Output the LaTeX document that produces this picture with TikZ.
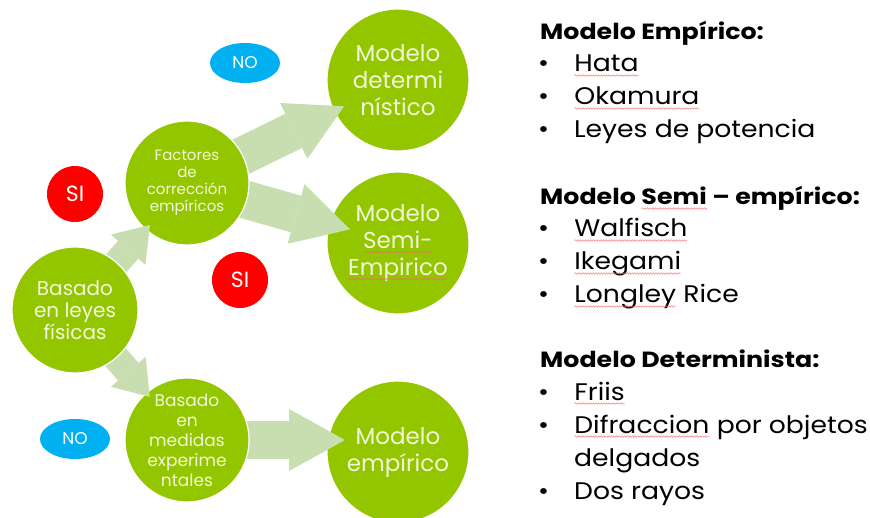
\documentclass[tikz,border=0pt]{standalone}
\usepackage{fontspec}
\setmainfont{Poppins}
\newfontfamily\itemFont[FakeStretch=1.11]{Poppins}
\newfontfamily\headFont[FakeStretch=1.15]{Poppins}
\usetikzlibrary{arrows.meta, shapes.geometric, decorations.pathmorphing}
\definecolor{nodeGreen}{HTML}{94C600}
\definecolor{arrowGreen}{HTML}{C8DEB0}
\definecolor{noBlue}{HTML}{00B0F0}
\definecolor{siRed}{HTML}{FF0000}
\definecolor{nodeText}{HTML}{F2F7DA}
\definecolor{waveRed}{HTML}{F26B6B}
\pgfdeclarelayer{bigLayer}
\pgfdeclarelayer{arrowLayerA}
\pgfdeclarelayer{midLayer}
\pgfdeclarelayer{arrowLayerB}
\pgfsetlayers{bigLayer,arrowLayerA,midLayer,arrowLayerB,main}
\tikzstyle{diagram} = [x = 1pt, y = -1pt]
\tikzstyle{circleStyle} = [circle, fill=nodeGreen, draw=white, line width=1.2pt, inner sep=0pt, align=center, text=nodeText]
\tikzstyle{bigCircle} = [circleStyle, minimum size=142pt, font=\fontsize{23}{27}\selectfont]
\tikzstyle{midCircle} = [circleStyle, minimum size=124pt]
\tikzstyle{bigArrow} = [draw=arrowGreen, line width=38pt, -{Triangle[length=56pt, width=62pt, line width=0pt]}]
\tikzstyle{smallArrow} = [draw=arrowGreen, line width=27pt, -{Triangle[length=33pt, width=46pt, line width=0pt]}]
\tikzstyle{noBadge} = [ellipse, fill=noBlue, minimum width=70pt, minimum height=40pt, inner sep=0pt, text=white, font=\fontsize{17}{17}\selectfont]
\tikzstyle{siBadge} = [circle, fill=siRed, minimum size=56pt, inner sep=0pt, text=white, font=\fontsize{22}{22}\selectfont]
\tikzstyle{headingText} = [anchor=base west, inner sep=0pt, font=\headFont\fontsize{22}{22}\selectfont\bfseries]
\tikzstyle{itemText} = [anchor=base west, inner sep=0pt, font=\itemFont\fontsize{24}{24}\selectfont]
\tikzstyle{waveWord} = [rectangle, draw=none, fill=none, minimum size=0pt, inner sep=0pt, outer sep=0pt, anchor=base]
\tikzstyle{waveLine} = [draw=waveRed, fill=none, line width=0.4pt, decorate, decoration={snake, amplitude=0.8pt, segment length=2.6pt}]
\newcommand{\spellWave}[1]{\tikz[baseline=(w.base), x=1pt, y=1pt]{\node [waveWord] (w) {#1}; \path [waveLine] ([yshift=-3.5pt]w.base west) -- ([yshift=-3.5pt]w.base east);}}
\newcommand{\listHeading}[3]{\node [headingText] (#1) at (540,#2) {#3};}
\newcommand{\listItem}[3]{
  \node [itemText] (#1-dot) at (538,#2) {•};
  \node [itemText] (#1) at (574,#2) {#3};
}

\begin{document}
\begin{tikzpicture}[diagram]
    \useasboundingbox (0,0) rectangle (870,518);
    \begin{pgfonlayer}{bigLayer}
      \node [bigCircle] (determ) at (398,80) {Modelo\\determi\\nístico};
      \node [bigCircle] (semi) at (398,243) {Modelo\\\spellWave{Semi-}\\\spellWave{Empirico}};
      \node [bigCircle] (empirico) at (398,452) {Modelo\\empírico};
    \end{pgfonlayer}
    \begin{pgfonlayer}{midLayer}
      \node [midCircle, font=\fontsize{15}{17}\selectfont] (factores) at (187,183) {Factores\\de\\corrección\\empíricos};
      \node [midCircle, font=\fontsize{17}{20}\selectfont] (medidas) at (187,440) {Basado\\en\\medidas\\experime\\ntales};
    \end{pgfonlayer}
    \begin{pgfonlayer}{arrowLayerA}
      \draw [bigArrow, shorten >=60pt] (factores.center) -- (determ.center);
      \draw [bigArrow, shorten >=50pt] (factores.center) -- (semi.center);
      \draw [bigArrow, shorten >=53pt] (medidas.center) -- (medidas.center -| empirico.center);
    \end{pgfonlayer}
    \node [midCircle, minimum size=126pt, font=\fontsize{20}{22}\selectfont] (leyes) at (75,310) {Basado\\en leyes\\físicas};
    \begin{pgfonlayer}{arrowLayerB}
      \draw [smallArrow, shorten >=56pt] (leyes.center) -- (factores.center);
      \draw [smallArrow, shorten >=57pt] (leyes.center) -- (medidas.center);
    \end{pgfonlayer}
    \node [noBadge] (noTop) at (245,63) {NO};
    \node [siBadge] (siLeft) at (75,194) {SI};
    \node [siBadge] (siRight) at (240,280) {SI};
    \node [noBadge] (noBottom) at (75,439) {NO};
    \listHeading{empHead}{40}{Modelo Empírico:}
    \listItem{hata}{72}{\spellWave{Hata}}
    \listItem{okamura}{105}{\spellWave{Okamura}}
    \listItem{potencia}{138}{Leyes de potencia}
    \listHeading{semiHead}{205}{Modelo \spellWave{Semi} – empírico:}
    \listItem{walfisch}{237}{\spellWave{Walfisch}}
    \listItem{ikegami}{270}{\spellWave{Ikegami}}
    \listItem{longley}{303}{\spellWave{Longley} Rice}
    \listHeading{detHead}{368}{Modelo Determinista:}
    \listItem{friis}{400}{\spellWave{Friis}}
    \listItem{difraccion}{433}{\spellWave{Difraccion} por objetos}
    \node [itemText] (delgados) at (574,466) {delgados};
    \listItem{rayos}{499}{Dos rayos}
\end{tikzpicture}
\end{document}
